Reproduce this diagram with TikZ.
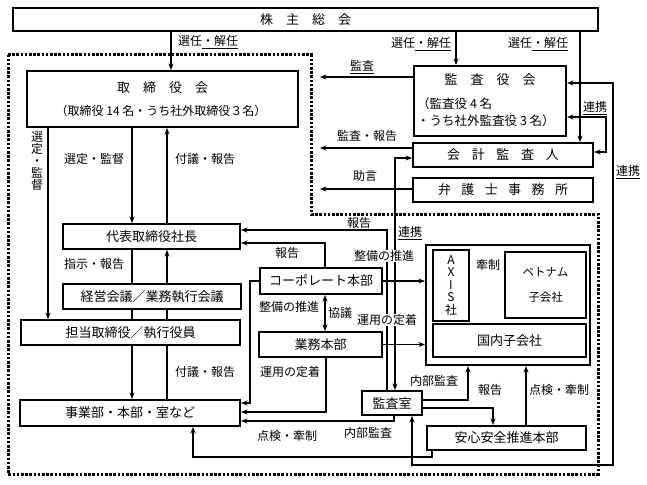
\documentclass[tikz,border=0pt]{standalone}
\usepackage{fontspec}
\setmainfont{Noto Sans CJK JP}
\usetikzlibrary{arrows.meta}
\pgfdeclarelayer{bg}
\pgfsetlayers{bg,main}
\begin{document}
\begin{tikzpicture}[x=1pt,y=-1pt,
  box/.style={draw, line width=1.9pt, fill=white, inner sep=0pt, font=\fontsize{13}{15}\selectfont},
  gbox/.style={draw, line width=2.1pt, fill=white, inner sep=0pt},
  btxt/.style={inner sep=0pt, font=\fontsize{13}{15}\selectfont},
  lab/.style={inner sep=1pt, font=\fontsize{12}{14}\selectfont},
  wlab/.style={lab, fill=white, inner sep=0.5pt},
  arr/.style={line width=1.1pt, -{Stealth[length=6.5pt,width=5pt]}},
  darr/.style={line width=1.1pt, {Stealth[length=6.5pt,width=5pt]}-{Stealth[length=6.5pt,width=5pt]}},
  dots/.style={line width=3pt, dash pattern=on 2.6pt off 1.6pt}
]
\useasboundingbox (0,0) rectangle (647,484);

% dotted frame
\draw[dots] (8,55) -- (311,55) -- (311,214) -- (598,214) -- (598,474) -- (8,474) -- cycle;

% boxes
\node[box, minimum width=585pt, minimum height=23pt] (sh) at (305.5,19.5) {株\hspace{1em}主\hspace{1em}総\hspace{1em}会};
\node[box, minimum width=271pt, minimum height=56pt] (tb) at (162.5,99) {};
\node[btxt] (tbt1) at (162.5,88) {取\hspace{1em}締\hspace{1em}役\hspace{1em}会};
\node[btxt, font=\fontsize{12}{14}\selectfont] (tbt2) at (161,111) {（取締役 14 名・うち社外取締役３名）};

\node[box, minimum width=152pt, minimum height=70pt] (kk) at (490,101) {};
\node[btxt] (kkt1) at (490,80) {監\hspace{1em}査\hspace{1em}役\hspace{1em}会};
\node[btxt, anchor=west, align=left, font=\fontsize{12.5}{17}\selectfont] (kkt2) at (417,112.5) {（監査役 4 名\\・うち社外監査役 3 名）};

\node[box, minimum width=180pt, minimum height=24pt] (ka) at (503,155) {会\hspace{0.9em}計\hspace{0.9em}監\hspace{0.9em}査\hspace{0.9em}人};
\node[box, minimum width=180pt, minimum height=24pt] (bg) at (503,190) {弁\hspace{0.8em}護\hspace{0.8em}士\hspace{0.8em}事\hspace{0.8em}務\hspace{0.8em}所};

\node[box, minimum width=177pt, minimum height=25pt] (ds) at (151.5,236.5) {代表取締役社長};
\node[box, minimum width=178pt, minimum height=25pt] (kc) at (152,296.5) {経営会議／業務執行会議};
\node[box, minimum width=219pt, minimum height=25pt] (tt) at (130.5,332.5) {担当取締役／執行役員};
\node[box, minimum width=220pt, minimum height=26pt] (jg) at (130,413) {事業部・本部・室など};

\node[box, minimum width=122pt, minimum height=26pt] (cp) at (321,281) {コーポレート本部};
\node[box, minimum width=123pt, minimum height=25pt] (gm) at (320.5,344.5) {業務本部};
\node[box, minimum width=60pt, minimum height=24pt] (ks) at (392,403) {監査室};
\node[box, minimum width=159pt, minimum height=24pt] (an) at (506.5,438) {安心安全推進本部};

\node[gbox, minimum width=164pt, minimum height=120pt] (grp) at (508,305) {};
\node[box, minimum width=36pt, minimum height=71pt, align=center, font=\fontsize{12}{12.5}\selectfont] (axis) at (451,285.5) {A\\X\\I\\S\\社};
\node[box, minimum width=81pt, minimum height=66pt, align=center, font=\fontsize{11.5}{25}\selectfont] (vn) at (545.5,285) {ベトナム\\子会社};
\node[box, minimum width=153pt, minimum height=33pt] (dom) at (509.5,340.5) {国内子会社};

% free ends
\coordinate (e1) at (320,77);
\coordinate (e2) at (320,148);
\coordinate (e3) at (320,189);

\begin{pgfonlayer}{bg}
% from shareholders
\draw[arr] (sh.south -| 171,0) -- (tb.north -| 171,0);
\draw[arr] (sh.south -| 456,0) -- (kk.north -| 456,0);
\draw[arr] (sh.south -| 580,0) -- (ka.north -| 580,0);
% to the left
\draw[arr] (kk.west |- e1) -- (e1);
\draw[arr] (ka.west |- e2) -- (e2);
\draw[arr] (bg.west |- e3) -- (e3);
% renkei
\draw[darr] (kk.east |- 0,83) -- (613,83) -- (613,465) -- (412,465) -- (ks.south -| 412,0);
\draw[darr] (kk.east |- 0,117) -- (606,117) -- (606,152) -- (ka.east |- 0,152);
\draw[darr] (ka.west |- 0,158) -- (395,158) -- (ks.north -| 395,0);
% board
\draw[arr] (tb.south -| 48,0) -- (tt.north -| 48,0);
\draw[arr] (tb.south -| 132,0) -- (ds.north -| 132,0);
\draw[arr] (ds.north -| 167,0) -- (tb.south -| 167,0);
\draw[arr] (ds.south -| 132,0) -- (jg.north -| 132,0);
\draw[arr] (jg.north -| 167,0) -- (ds.south -| 167,0);
% reports to president
\draw[arr] (ks.north -| 387,0) -- (387,230) -- (ds.east |- 0,230);
\draw[arr] (cp.north -| 325,0) -- (325,243) -- (ds.east |- 0,243);
% corporate / business
\draw[arr] (cp.east) -- (grp.west |- cp.east);
\draw[arr] (gm.east) -- (grp.west |- gm.east);
\draw[darr] (cp.south -| 325,0) -- (gm.north -| 325,0);
\draw[arr] (cp.west) -- (250,281) -- (250,403) -- (jg.east |- 0,403);
\draw[arr] (gm.south -| 326,0) -- (326,412) -- (jg.east |- 0,412);
\draw[arr] (ks.south -| 394,0) -- (394,421) -- (jg.east |- 0,421);
\draw[arr] (an.south -| 432,0) -- (432,457) -- (193,457) -- (jg.south -| 193,0);
% audit office
\draw[arr] (ks.east |- 0,400) -- (468,400) -- (grp.south -| 468,0);
\draw[arr] (ks.east |- 0,408) -- (493,408) -- (an.north -| 493,0);
\draw[arr] (an.north -| 526,0) -- (grp.south -| 526,0);
\draw[arr] (axis.east |- 0,277) -- (vn.west |- 0,277);
\end{pgfonlayer}

% labels
\node[lab] (l1) at (208,42) {選任\underline{・解任}};
\node[lab] (l2) at (421,44) {選任\underline{・解任}};
\node[lab] (l3) at (538,44) {選任\underline{・解任}};
\node[lab] (l4) at (362,67) {\underline{監査}};
\node[lab] (l5) at (367,136) {監査・報告};
\node[lab] (l6) at (365,176) {助言};
\node[lab] (l7) at (595,108) {\underline{連携}};
\node[lab] (l8) at (628,172) {\underline{連携}};
\node[lab] (l9) at (410,233) {\underline{連携}};
\node[lab, align=center, font=\fontsize{12}{12}\selectfont] (l10) at (37,161) {選\\定\\・\\監\\督};
\node[lab] (l11) at (94,159) {選定・監督};
\node[lab] (l12) at (205,159) {付議・報告};
\node[lab] (l13) at (94,264) {指示・報告};
\node[lab] (l14) at (205,372) {付議・報告};
\node[lab] (l15) at (359,223) {報告};
\node[lab] (l16) at (287,253) {報告};
\node[wlab] (l17) at (384,256) {整備の推進};
\node[lab] (l18) at (289,307) {整備の推進};
\node[lab] (l19) at (340,313) {協議};
\node[wlab] (l20) at (387,320) {運用の定着};
\node[lab] (l21) at (290,372) {運用の定着};
\node[lab] (l22) at (368,433) {内部監査};
\node[lab] (l23) at (287,436) {点検・牽制};
\node[lab] (l24) at (434,381) {内部監査};
\node[lab] (l25) at (490,390) {報告};
\node[lab] (l26) at (559,390) {点検・牽制};
\node[lab] (l27) at (488,265) {牽制};
\end{tikzpicture}
\end{document}
